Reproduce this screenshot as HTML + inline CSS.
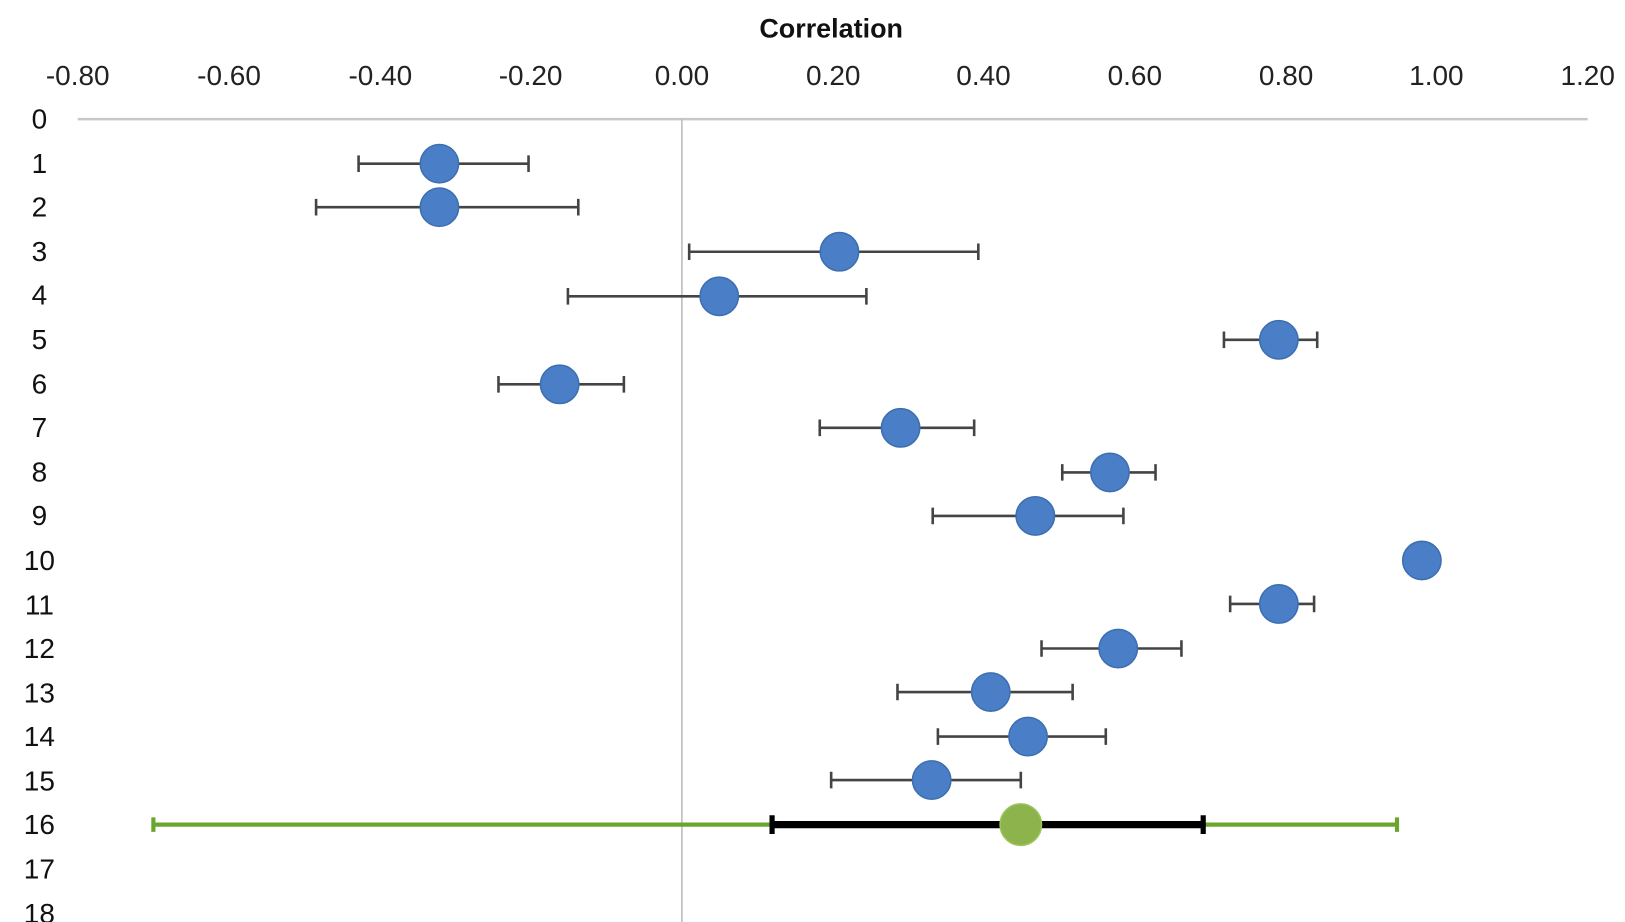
<!DOCTYPE html>
<html><head><meta charset="utf-8"><style>html,body{margin:0;padding:0;background:#fff;}svg{display:block}</style></head>
<body>
<svg width="1625" height="922" viewBox="0 0 1568 890" preserveAspectRatio="none" xmlns="http://www.w3.org/2000/svg" font-family="'Liberation Sans', sans-serif">
<rect width="1568" height="890" fill="#fff"/>
<text x="802" y="36" font-size="26" font-weight="bold" text-anchor="middle" fill="#111">Correlation</text>
<g font-size="27" fill="#222" text-anchor="middle">
<text x="75" y="82">-0.80</text><text x="221" y="82">-0.60</text><text x="367" y="82">-0.40</text><text x="512" y="82">-0.20</text><text x="658" y="82">0.00</text><text x="804" y="82">0.20</text><text x="949" y="82">0.40</text><text x="1095" y="82">0.60</text><text x="1241" y="82">0.80</text><text x="1386" y="82">1.00</text><text x="1532" y="82">1.20</text>
</g>
<line x1="75" y1="115" x2="1532" y2="115" stroke="#c8c8c8" stroke-width="2.5"/>
<line x1="658" y1="115" x2="658" y2="890" stroke="#bbb" stroke-width="1.5"/>
<g font-size="27" fill="#111" text-anchor="middle">
<text x="38" y="124">0</text><text x="38" y="167">1</text><text x="38" y="209">2</text><text x="38" y="252">3</text><text x="38" y="294">4</text><text x="38" y="337">5</text><text x="38" y="380">6</text><text x="38" y="422">7</text><text x="38" y="465">8</text><text x="38" y="507">9</text><text x="38" y="550">10</text><text x="38" y="593">11</text><text x="38" y="635">12</text><text x="38" y="678">13</text><text x="38" y="720">14</text><text x="38" y="763">15</text><text x="38" y="805">16</text><text x="38" y="848">17</text><text x="38" y="891">18</text>
</g>
<g stroke="#444" stroke-width="2.5" fill="none">
<path d="M346 158H510M346 150v16M510 150v16"/>
<path d="M305 200H558M305 192v16M558 192v16"/>
<path d="M665 243H944M665 235v16M944 235v16"/>
<path d="M548 286H836M548 278v16M836 278v16"/>
<path d="M1181 328H1271M1181 320v16M1271 320v16"/>
<path d="M481 371H602M481 363v16M602 363v16"/>
<path d="M791 413H940M791 405v16M940 405v16"/>
<path d="M1025 456H1115M1025 448v16M1115 448v16"/>
<path d="M900 498H1084M900 490v16M1084 490v16"/>
<path d="M1187 583H1268M1187 575v16M1268 575v16"/>
<path d="M1005 626H1140M1005 618v16M1140 618v16"/>
<path d="M866 668H1035M866 660v16M1035 660v16"/>
<path d="M905 711H1067M905 703v16M1067 703v16"/>
<path d="M802 753H985M802 745v16M985 745v16"/>
</g>
<g fill="#4a7ec6" stroke="#3d6fb0" stroke-width="1.5">
<circle cx="424" cy="158" r="18.5"/><circle cx="424" cy="200" r="18.5"/><circle cx="810" cy="243" r="18.5"/><circle cx="694" cy="286" r="18.5"/><circle cx="1234" cy="328" r="18.5"/><circle cx="540" cy="371" r="18.5"/><circle cx="869" cy="413" r="18.5"/><circle cx="1071" cy="456" r="18.5"/><circle cx="999" cy="498" r="18.5"/><circle cx="1372" cy="541" r="18.5"/><circle cx="1234" cy="583" r="18.5"/><circle cx="1079" cy="626" r="18.5"/><circle cx="956" cy="668" r="18.5"/><circle cx="992" cy="711" r="18.5"/><circle cx="899" cy="753" r="18.5"/>
</g>
<path d="M148 796H1348M148 789v14M1348 789v14" stroke="#6aa62c" stroke-width="4" fill="none"/>
<path d="M745 796H1161" stroke="#000" stroke-width="7"/>
<path d="M745 787v18M1161 787v18" stroke="#000" stroke-width="5"/>
<circle cx="985" cy="796" r="20" fill="#8cb34c" stroke="#9cc45a" stroke-width="1.5"/>
</svg>
</body></html>
